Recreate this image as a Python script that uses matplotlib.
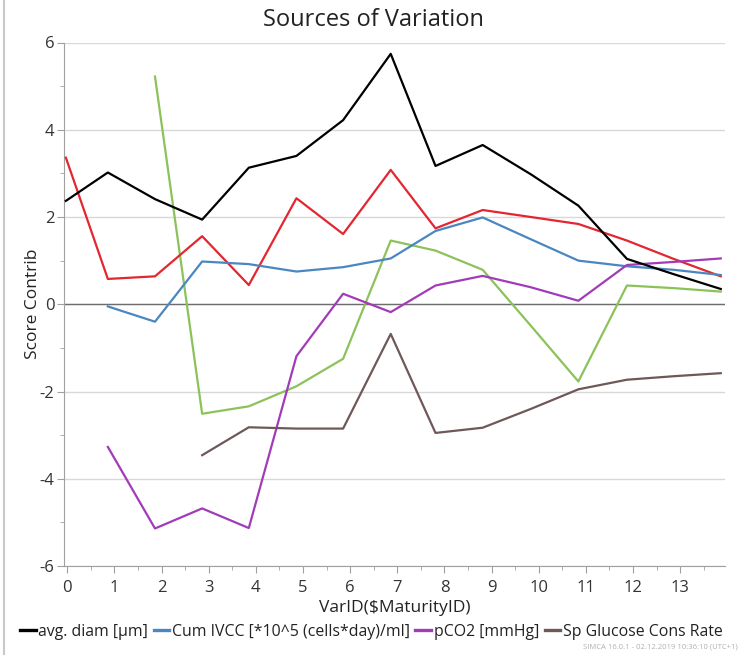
import matplotlib.pyplot as plt
from matplotlib.lines import Line2D
from matplotlib.ticker import MultipleLocator

plt.rcParams["font.family"] = ["Open Sans", "DejaVu Sans"]
plt.rcParams["axes.unicode_minus"] = False

# Positions of the 15 maturity points on the VarID axis
var_pos = [-0.03, 0.86, 1.86, 2.86, 3.85, 4.86, 5.85, 6.86, 7.81, 8.81,
           9.83, 10.84, 11.87, 12.86, 13.86]
tick_ids = list(range(14))

# Score contributions per variable (None = no value)
avg_diam = [2.37, 3.02, 2.41, 1.94, 3.13, 3.40, 4.22, 5.74, 3.17, 3.65,
            2.98, 2.26, 1.04, 0.69, 0.35]
red_var = [3.36, 0.58, 0.64, 1.56, 0.44, 2.43, 1.61, 3.08, 1.74, 2.16,
           2.00, 1.84, 1.46, 1.04, 0.64]
cum_ivcc = [None, -0.05, -0.40, 0.98, 0.92, 0.75, 0.85, 1.05, 1.68, 1.99,
            1.49, 1.00, 0.87, 0.79, 0.67]
green_var = [None, None, 5.22, -2.51, -2.34, -1.88, -1.25, 1.46, 1.23, 0.79,
             -0.49, -1.77, 0.43, 0.37, 0.29]
pco2 = [None, -3.27, -5.14, -4.68, -5.13, -1.19, 0.24, -0.18, 0.43, 0.65,
        0.39, 0.08, 0.90, 0.97, 1.05]
sp_glucose = [None, None, None, -3.46, -2.82, -2.85, -2.85, -0.68, -2.95,
              -2.83, -2.40, -1.95, -1.73, -1.65, -1.58]

series = [
    ("avg. diam [µm]", avg_diam, "#000000"),
    ("Cum IVCC [*10^5 (cells*day)/ml]", cum_ivcc, "#4a87c0"),
    ("pCO2 [mmHg]", pco2, "#a23bb8"),
    ("Sp Glucose Cons Rate", sp_glucose, "#6f5858"),
    ("Lactate", red_var, "#e3262f"),
    ("Glucose", green_var, "#8cc25a"),
]


def clean(ys):
    pts = [(x, y) for x, y in zip(var_pos, ys) if y is not None]
    return [p[0] for p in pts], [p[1] for p in pts]


fig = plt.figure(figsize=(7.39, 6.55), dpi=100)
ax = fig.add_axes([64 / 739, 1 - 566 / 655, (725 - 64) / 739, (566 - 42.5) / 655])

# draw order: green and red underneath, the rest on top
order = [5, 4, 1, 2, 3, 0]
for i in order:
    label, ys, color = series[i]
    xs, vals = clean(ys)
    ax.plot(xs, vals, color=color, lw=1.6, label=label, zorder=3)

ax.axhline(0, color="#6e6e6e", lw=1.0, zorder=2)

ax.set_xlim(-0.07, 13.95)
ax.set_ylim(-6, 6)
ax.set_xticks(tick_ids)
ax.xaxis.set_minor_locator(MultipleLocator(0.5))
ax.yaxis.set_major_locator(MultipleLocator(2))
ax.yaxis.set_minor_locator(MultipleLocator(1))
ax.grid(axis="y", which="major", color="#d8d8d8", lw=1.0, zorder=0)

for side in ["top", "right"]:
    ax.spines[side].set_visible(False)
for side in ["left", "bottom"]:
    ax.spines[side].set_color("#a0a0a0")
ax.tick_params(axis="both", which="both", colors="#a0a0a0", labelcolor="#333333",
               labelsize=12)
ax.tick_params(which="major", length=5)
ax.tick_params(which="minor", length=3)
ax.tick_params(axis="x", pad=5)
ax.tick_params(axis="y", pad=2)

ax.set_xlabel("VarID($MaturityID)", fontsize=12.5, color="#222222", labelpad=3)
ax.set_ylabel("Score Contrib", fontsize=12.5, color="#222222")
ax.yaxis.set_label_coords((41 - 64) / 661, 0.5)
fig.text(373 / 739, 1 - 20 / 655, "Sources of Variation", ha="center", va="center",
         fontsize=17, color="#222222")

handles = [Line2D([], [], color=c, lw=2.4) for _, _, c in series[:4]]
labels = [s[0] for s in series[:4]]
fig.legend(handles, labels, loc="center left", bbox_to_anchor=(20 / 739, 1 - 632 / 655),
           ncol=4, frameon=False, fontsize=11.4, handlelength=1.0,
           handletextpad=0.15, columnspacing=0.35, borderaxespad=0, borderpad=0,
           labelcolor="#222222")

fig.text(583 / 739, 1 - 647 / 655, "SIMCA 16.0.1 - 02.12.2019 10:36:10 (UTC+1)",
         ha="left", va="center", fontsize=5.5, color="#b0b0b0")

# thin frame line on the left edge of the window
fig.add_artist(Line2D([4 / 739, 4 / 739], [0, 1], color="#c8c8c8", lw=1.5,
                      transform=fig.transFigure))

fig.savefig("out.png", dpi=100)
